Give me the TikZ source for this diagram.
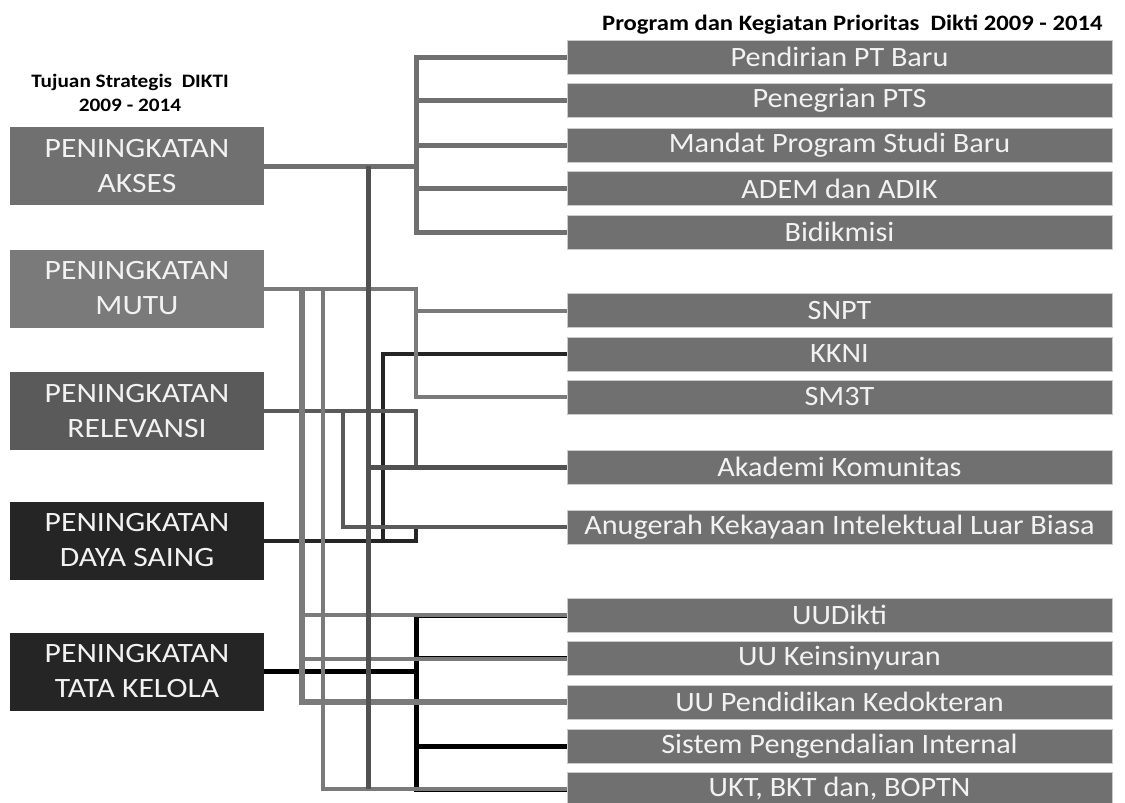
\documentclass[tikz,border=0pt]{standalone}
\usepackage{fontspec}
\setmainfont{Carlito}[FakeStretch=1.08]
\newfontfamily\goalfont{Carlito}[FakeStretch=1.13]
\newfontfamily\judulfont{Carlito}[FakeStretch=1.12]
\definecolor{aks}{HTML}{707070}
\definecolor{mut}{HTML}{7A7A7A}
\definecolor{rel}{HTML}{5A5A5A}
\definecolor{dsg}{HTML}{252525}
\definecolor{prg}{HTML}{707070}
\definecolor{teks}{HTML}{F2F2F2}
\begin{document}
\begin{tikzpicture}[x=1pt,y=-1pt,
    goal/.style={rectangle, minimum width=254pt, minimum height=78pt, inner sep=0pt,
        align=center, text=teks, font=\goalfont\fontsize{28}{35}\selectfont},
    prog/.style={rectangle, fill=prg, draw=gray!40, line width=1pt, minimum width=545pt,
        minimum height=34pt, inner sep=0pt, text=teks, font=\fontsize{28}{30}\selectfont},
    judul/.style={align=center, font=\judulfont\bfseries\fontsize{19}{24}\selectfont},
    lnA/.style={draw=aks, line width=5pt},
    lnK/.style={draw=rel!90!black, line width=5pt},
    lnM/.style={draw=mut, line width=4pt},
    lnR/.style={draw=rel, line width=4pt},
    lnD/.style={draw=dsg, line width=4pt},
    lnT/.style={draw=black, line width=5pt}]
    \useasboundingbox (0,0) rectangle (1125,803);

    \node[judul] (tjudul) at (130,93) {Tujuan Strategis\ \ DIKTI\\2009 - 2014};
    \node[judul, anchor=east, font=\judulfont\bfseries\fontsize{22}{24}\selectfont] (pjudul) at (1106,25)
        {Program dan Kegiatan Prioritas\ \ Dikti 2009 - 2014};

    \node[goal, fill=aks] (akses) at (137,166) {PENINGKATAN\\AKSES};
    \node[goal, fill=mut] (mutu) at (137,288.5) {PENINGKATAN\\MUTU};
    \node[goal, fill=rel] (relev) at (137,411) {PENINGKATAN\\RELEVANSI};
    \node[goal, fill=dsg] (daya) at (137,540.5) {PENINGKATAN\\DAYA SAING};
    \node[goal, fill=dsg] (tata) at (137,671.5) {PENINGKATAN\\TATA KELOLA};

    \node[prog] (pendirian) at (839.5,57) {Pendirian PT Baru};
    \node[prog] (penegrian) at (839.5,100.5) {Penegrian PTS};
    \node[prog] (mandat) at (839.5,145) {Mandat Program Studi Baru};
    \node[prog] (adem) at (839.5,188.5) {ADEM dan ADIK};
    \node[prog] (bidik) at (839.5,232) {Bidikmisi};
    \node[prog] (snpt) at (839.5,310.5) {SNPT};
    \node[prog] (kkni) at (839.5,354) {KKNI};
    \node[prog] (sm3t) at (839.5,397) {SM3T};
    \node[prog] (akad) at (839.5,467) {Akademi Komunitas};
    \node[prog] (anug) at (839.5,527) {Anugerah Kekayaan Intelektual Luar Biasa};
    \node[prog] (uud) at (839.5,615) {UUDikti};
    \node[prog] (keins) at (839.5,658.5) {UU Keinsinyuran};
    \node[prog] (kedok) at (839.5,702) {UU Pendidikan Kedokteran};
    \node[prog] (sistem) at (839.5,746) {Sistem Pengendalian Internal};
    \node[prog] (ukt) at (839.5,789) {UKT, BKT dan, BOPTN};

    \coordinate (xm1) at (302,0);
    \coordinate (xm2) at (323,0);
    \coordinate (xr) at (343,0);
    \coordinate (xk) at (368,0);
    \coordinate (xd) at (383,0);
    \coordinate (xb) at (416,0);

    % tata kelola
    \draw[lnT] (tata.east) -- (tata.east -| xb);
    \draw[lnT] (uud.west) -| (xb |- ukt.west) -- (ukt.west);
    \draw[lnT] (xb |- keins.west) -- (keins.west);
    \draw[lnT] (xb |- kedok.west) -- (kedok.west);
    \draw[lnT] (xb |- sistem.west) -- (sistem.west);

    % daya saing
    \draw[lnD] (daya.east) -| (xb |- anug.west);
    \draw[lnD] (daya.east -| xd) |- (kkni.west);

    % relevansi
    \draw[lnR] (relev.east) -| (xb |- akad.west) -- (akad.west);
    \draw[lnR] (relev.east -| xr) |- (anug.west);

    % mutu
    \draw[lnM] (mutu.east) -| (xb |- sm3t.west) -- (sm3t.west);
    \draw[lnM] (xb |- snpt.west) -- (snpt.west);
    \draw[lnM, line width=6pt] (mutu.east -| xm1) |- (kedok.west);
    \draw[lnM] (xm1 |- uud.west) -- (uud.west);
    \draw[lnM] (xm1 |- keins.west) -- (keins.west);
    \draw[lnM] (mutu.east -| xm2) |- (ukt.west);

    % akses
    \draw[lnA] (pendirian.west) -| (xb |- bidik.west) -- (bidik.west);
    \draw[lnA] (akses.east) -- (akses.east -| xb);
    \draw[lnA] (xb |- penegrian.west) -- (penegrian.west);
    \draw[lnA] (xb |- mandat.west) -- (mandat.west);
    \draw[lnA] (xb |- adem.west) -- (adem.west);
    \draw[lnK] (akses.east -| xk) -- (xk |- ukt.west);
    \draw[lnK] (xk |- akad.west) -- (akad.west);
\end{tikzpicture}
\end{document}
